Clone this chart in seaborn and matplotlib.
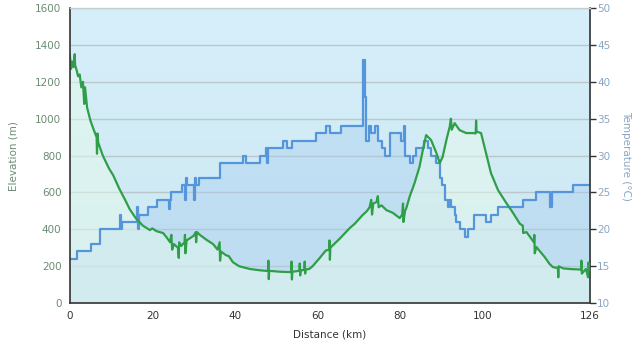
import numpy as np
import pandas as pd
import matplotlib
matplotlib.use("Agg")
import matplotlib.pyplot as plt
import seaborn as sns
from matplotlib.colors import LinearSegmentedColormap

# ---------------- data ----------------
elev_km = [0.0, 0.3, 0.6, 0.9, 1.2, 1.3, 1.7, 2.0, 2.4, 2.8, 3.2, 3.5, 3.7, 4.2, 5.0, 5.8, 6.5, 6.6, 6.7, 6.9,
           8.0, 9.5, 10.5, 12.0, 13.4, 14.5, 16.0, 17.7, 19.4, 20.0, 21.0, 22.6, 23.5, 24.3, 24.6, 24.8, 25.2,
           26.2, 26.4, 26.5, 27.0, 27.8, 27.9, 28.0, 28.3, 29.1, 30.0, 30.5, 30.6, 30.8, 31.5, 33.0, 34.7,
           35.8, 36.3, 36.4, 36.6, 37.8, 38.5, 39.5, 41.0, 43.6, 46.0, 48.0, 48.1, 48.2, 48.3, 51.0, 53.6,
           53.7, 53.8, 53.9, 55.6, 55.7, 55.8, 55.9, 56.8, 56.9, 57.0, 57.1, 58.0, 58.8, 60.5, 62.0, 62.8,
           62.9, 63.0, 63.1, 65.4, 67.8, 69.0, 70.9, 72.0, 72.6, 73.0, 73.2, 73.5, 74.3, 74.6, 74.8, 75.5,
           76.7, 78.2, 79.9, 80.5, 80.7, 80.8, 81.2, 81.5, 82.3, 83.5, 84.7, 85.5, 86.3, 87.5, 88.8, 89.6,
           90.3, 91.2, 92.0, 92.3, 92.5, 93.2, 94.4, 96.0, 97.6, 98.3, 98.4, 98.5, 99.6, 100.8, 102.0, 103.7,
           105.5, 107.2, 109.0, 109.7, 109.8, 110.6, 112.4, 112.5, 112.6, 113.0, 115.0, 116.2, 117.0, 118.2,
           118.3, 118.4, 119.5, 121.7, 123.8, 123.9, 124.0, 125.0, 125.5, 125.6, 126.0]
elev_m = [1350, 1270, 1310, 1280, 1350, 1290, 1260, 1230, 1240, 1170, 1200, 1080, 1170, 1060, 990, 940, 900, 810, 920, 870,
          800, 730, 694, 620, 560, 510, 460, 420, 396, 405, 390, 380, 355, 330, 370, 290, 320,
          300, 245, 330, 310, 330, 370, 270, 340, 352, 365, 385, 330, 385, 370, 345, 320,
          290, 330, 230, 280, 260, 255, 222, 200, 185, 178, 174, 230, 130, 175, 170, 168,
          225, 128, 170, 175, 215, 150, 178, 180, 225, 160, 182, 185, 200, 244, 285, 290,
          340, 235, 300, 350, 407, 430, 477, 500, 520, 560, 480, 540, 548, 580, 520, 530,
          504, 490, 461, 480, 540, 440, 500, 515, 577, 651, 740, 830, 911, 884, 813, 760,
          793, 884, 956, 1000, 940, 976, 938, 922, 922, 920, 990, 930, 922, 813, 705, 613,
          550, 494, 430, 420, 380, 385, 330, 370, 270, 304, 250, 212, 195, 190,
          140, 200, 188, 184, 182, 230, 160, 185, 140, 220, 180]

temp_km = [0, 1.8, 5.1, 7.3, 12.2, 12.4, 12.6, 16.3, 16.5, 16.7, 19.0, 21.1, 24.1, 24.3, 24.5, 27.2,
           27.9, 28.1, 28.3, 30.1, 30.3, 30.5, 31.3, 36.3, 42.0, 42.6, 46.0, 47.6, 47.8, 48.1, 51.7,
           52.5, 53.7, 59.7, 62.1, 62.9, 65.7, 71.0, 71.4, 71.8, 72.4, 73.0, 73.8, 74.6, 75.5, 76.3,
           77.5, 80.3, 80.9, 81.3, 82.3, 83.1, 83.9, 85.9, 86.7, 87.5, 88.8, 89.6, 90.2, 90.8, 91.5,
           91.8, 92.4, 93.2, 93.6, 94.4, 95.6, 96.4, 97.8, 100.7, 102.1, 103.7, 109.7, 112.9, 116.2,
           116.8, 121.8, 126.0]
temp_c = [16, 17, 18, 20, 22, 20, 21, 23, 20, 22, 23, 24, 22.7, 24, 25, 26,
          24, 27, 26, 24, 27, 26, 27, 29, 30, 29, 30, 31, 29, 31, 32,
          31, 32, 33, 34, 33, 34, 43, 38, 32, 34, 33, 34, 32, 31, 30,
          33, 32, 34, 30, 29, 30, 31, 32, 31, 30, 29, 27, 26, 24, 23,
          24, 23, 22, 21, 20, 19, 20, 22, 21, 22, 23, 24, 25, 23,
          25, 26, 26]

x_ticks = [0, 20, 40, 60, 80, 100, 126]
elev_ticks = [0, 200, 400, 600, 800, 1000, 1200, 1400, 1600]
temp_ticks = [10, 15, 20, 25, 30, 35, 40, 45, 50]

df_e = pd.DataFrame({"km": elev_km, "m": elev_m})
df_t = pd.DataFrame({"km": temp_km, "c": temp_c})

# ---------------- style ----------------
sns.set_theme(style="white")
plt.rcParams['font.family'] = ['DejaVu Sans']

GREEN = "#2e9f48"
BLUE = "#5595dc"
LTXT = "#6b8c72"
RTXT = "#8aa6c2"
RECT = [0.109, 0.134, 0.813, 0.843]

fig = plt.figure(figsize=(6.4, 3.5), dpi=100)
fig.patch.set_facecolor("white")

# layer 1 (back): background, grid, blue fill  (temperature scale)
ax_bg = fig.add_axes(RECT, zorder=0)
# layer 2: green fill (elevation scale)
ax_gf = fig.add_axes(RECT, zorder=1, sharex=ax_bg)
# layer 3: blue line + right axis (temperature scale)
ax2 = fig.add_axes(RECT, zorder=2, sharex=ax_bg)
# layer 4 (front): green line + left/bottom axes (elevation scale)
ax = fig.add_axes(RECT, zorder=3, sharex=ax_bg)
for a in (ax_gf, ax2, ax):
    a.patch.set_visible(False)

cmap_bg = LinearSegmentedColormap.from_list("bg", ["#cde8f2", "#d6effa"])
grad = np.linspace(0, 1, 256).reshape(-1, 1)
ax_bg.imshow(grad, extent=[0, 1, 0, 1], transform=ax_bg.transAxes, origin="lower",
             cmap=cmap_bg, aspect="auto", zorder=0)
ax_bg.fill_between(temp_km, 10, temp_c, step="post", color="#a8cdf0", alpha=0.4, lw=0, zorder=2)
ax_bg.set_ylim(10, 50)
ax_bg.set_yticks(temp_ticks)
ax_bg.grid(axis="y", color="#bac6cb", lw=1, zorder=1)
ax_bg.grid(axis="x", visible=False)
ax_bg.set_axisbelow(True)
ax_bg.tick_params(left=False, bottom=False, labelleft=False, labelbottom=False)

ax_gf.fill_between(elev_km, 0, elev_m, color="#e6faec", alpha=0.5, lw=0)
ax_gf.set_ylim(0, 1600)
ax_gf.axis("off")

sns.lineplot(data=df_t, x="km", y="c", ax=ax2, color=BLUE, lw=1.6, drawstyle="steps-post",
             estimator=None, sort=False)
ax2.set_ylim(10, 50)
ax2.yaxis.tick_right()
ax2.yaxis.set_label_position("right")
ax2.set_yticks(temp_ticks)
ax2.set_yticklabels([str(t) for t in temp_ticks], color=RTXT, fontsize=7.5)
ax2.set_ylabel("Temperature (°C)", color=RTXT, fontsize=7.5, rotation=270, labelpad=15)
ax2.set_xlabel("")
ax2.tick_params(axis="y", direction="out", length=4, width=1, color="#333333", pad=1)
ax2.tick_params(axis="x", bottom=False, labelbottom=False)

sns.lineplot(data=df_e, x="km", y="m", ax=ax, color=GREEN, lw=1.6,
             estimator=None, sort=False)
ax.set_xlim(0, 126)
ax.set_ylim(0, 1600)
ax.set_xticks(x_ticks)
ax.set_xticklabels([str(t) for t in x_ticks], color="#333333", fontsize=7.5)
ax.set_yticks(elev_ticks)
ax.set_yticklabels([str(t) for t in elev_ticks], color=LTXT, fontsize=7.5)
ax.set_xlabel("Distance (km)", color="#333333", fontsize=7.5, labelpad=6)
ax.set_ylabel("Elevation (m)", color=LTXT, fontsize=7.5, labelpad=12)
ax.tick_params(axis="both", direction="out", length=4, width=1, color="#333333", pad=2)
ax.grid(False)

for a in (ax_bg, ax_gf, ax2):
    for s in a.spines.values():
        s.set_visible(False)
for s in ("left", "bottom"):
    ax.spines[s].set_color("#333333")
    ax.spines[s].set_linewidth(1.2)
ax.spines["right"].set_visible(False)
ax2.spines["right"].set_visible(True)
ax2.spines["right"].set_color("#333333")
ax2.spines["right"].set_linewidth(1.2)
ax.spines["top"].set_color("#c3cdd2")
ax.spines["top"].set_linewidth(1)

fig.savefig("out.png", dpi=100, facecolor="white")
